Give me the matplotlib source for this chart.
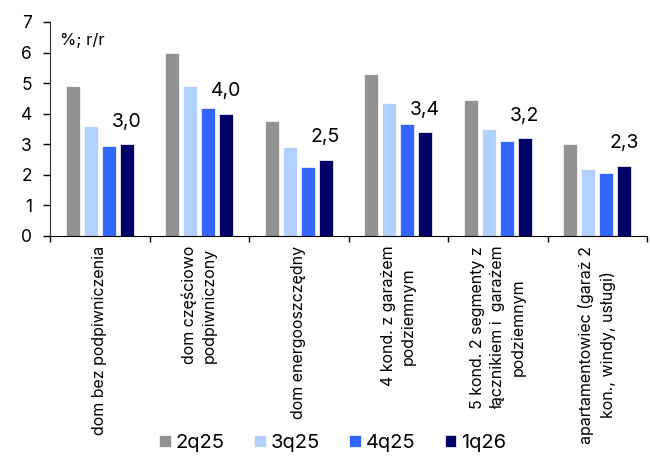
import matplotlib
matplotlib.use('Agg')
import numpy as np
import matplotlib.pyplot as plt

plt.rcParams['font.family'] = ['Inter', 'DejaVu Sans']

kategorie = ['dom bez podpiwniczenia',
             'dom częściowo\npodpiwniczony',
             'dom energooszczędny',
             '4 kond. z garażem\npodziemnym',
             '5 kond. 2 segmenty z\nłącznikiem i  garażem\npodziemnym',
             'apartamentowiec (garaż 2\nkon., windy, usługi)']
serie = ['2q25', '3q25', '4q25', '1q26']
v_2q25 = [4.9, 6.0, 3.75, 5.3, 4.45, 3.0]
v_3q25 = [3.6, 4.9, 2.9, 4.35, 3.5, 2.2]
v_4q25 = [2.95, 4.2, 2.25, 3.65, 3.1, 2.05]
v_1q26 = [3.0, 4.0, 2.5, 3.4, 3.2, 2.3]
etykiety = ['3,0', '4,0', '2,5', '3,4', '3,2', '2,3']
kolory = ['#929292', '#b3d1ff', '#3366ff', '#000066']

fig = plt.figure(figsize=(6.5, 4.58), dpi=100)
ax = fig.add_axes([50/650, 1-236/458, 597/650, 214/458])

x = np.arange(len(kategorie))
w = 0.14
przes = [-0.27, -0.09, 0.09, 0.27]
dane = [v_2q25, v_3q25, v_4q25, v_1q26]
for s, v, c, p in zip(serie, dane, kolory, przes):
    ax.bar(x + p, v, w, color=c, label=s, edgecolor='white', linewidth=0.5)

# etykiety tylko dla ostatniego kwartalu
for i, (v, t) in enumerate(zip(v_1q26, etykiety)):
    ax.annotate(t, (x[i] + przes[3], v), xytext=(0, 12.5), textcoords='offset points',
                ha='center', va='baseline', fontsize=14)

ax.set_xlim(-0.5, len(kategorie) - 0.5)
ax.set_ylim(0, 7)
ax.set_yticks(range(0, 8))
ax.tick_params(axis='y', labelsize=12.5, length=5, pad=8, width=1)
ax.set_xticks(np.arange(-0.5, len(kategorie), 1))
ax.set_xticklabels([])
ax.tick_params(axis='x', length=4, width=1, direction='out')
for s in ['top', 'right']:
    ax.spines[s].set_visible(False)
ax.spines['left'].set_color('#303030')

# opisy kategorii pionowo pod osia
for i, k in enumerate(kategorie):
    ax.annotate(k, (x[i], 0), xycoords=('data', 'axes fraction'), xytext=(0, -7),
                textcoords='offset points', rotation=90, ha='center', va='top',
                fontsize=11.5, multialignment='center', linespacing=1.45)

ax.text(60/650, 1-41/458, '%; r/r', transform=fig.transFigure, fontsize=12,
        va='center', ha='left')

fig.legend(ncol=4, loc='center left', bbox_to_anchor=(159/650, 1-443/458),
           frameon=False, fontsize=14.5, handlelength=0.58, handleheight=0.58,
           handletextpad=0.25, columnspacing=1.45, borderpad=0, borderaxespad=0)

fig.savefig('out.png', dpi=100)
